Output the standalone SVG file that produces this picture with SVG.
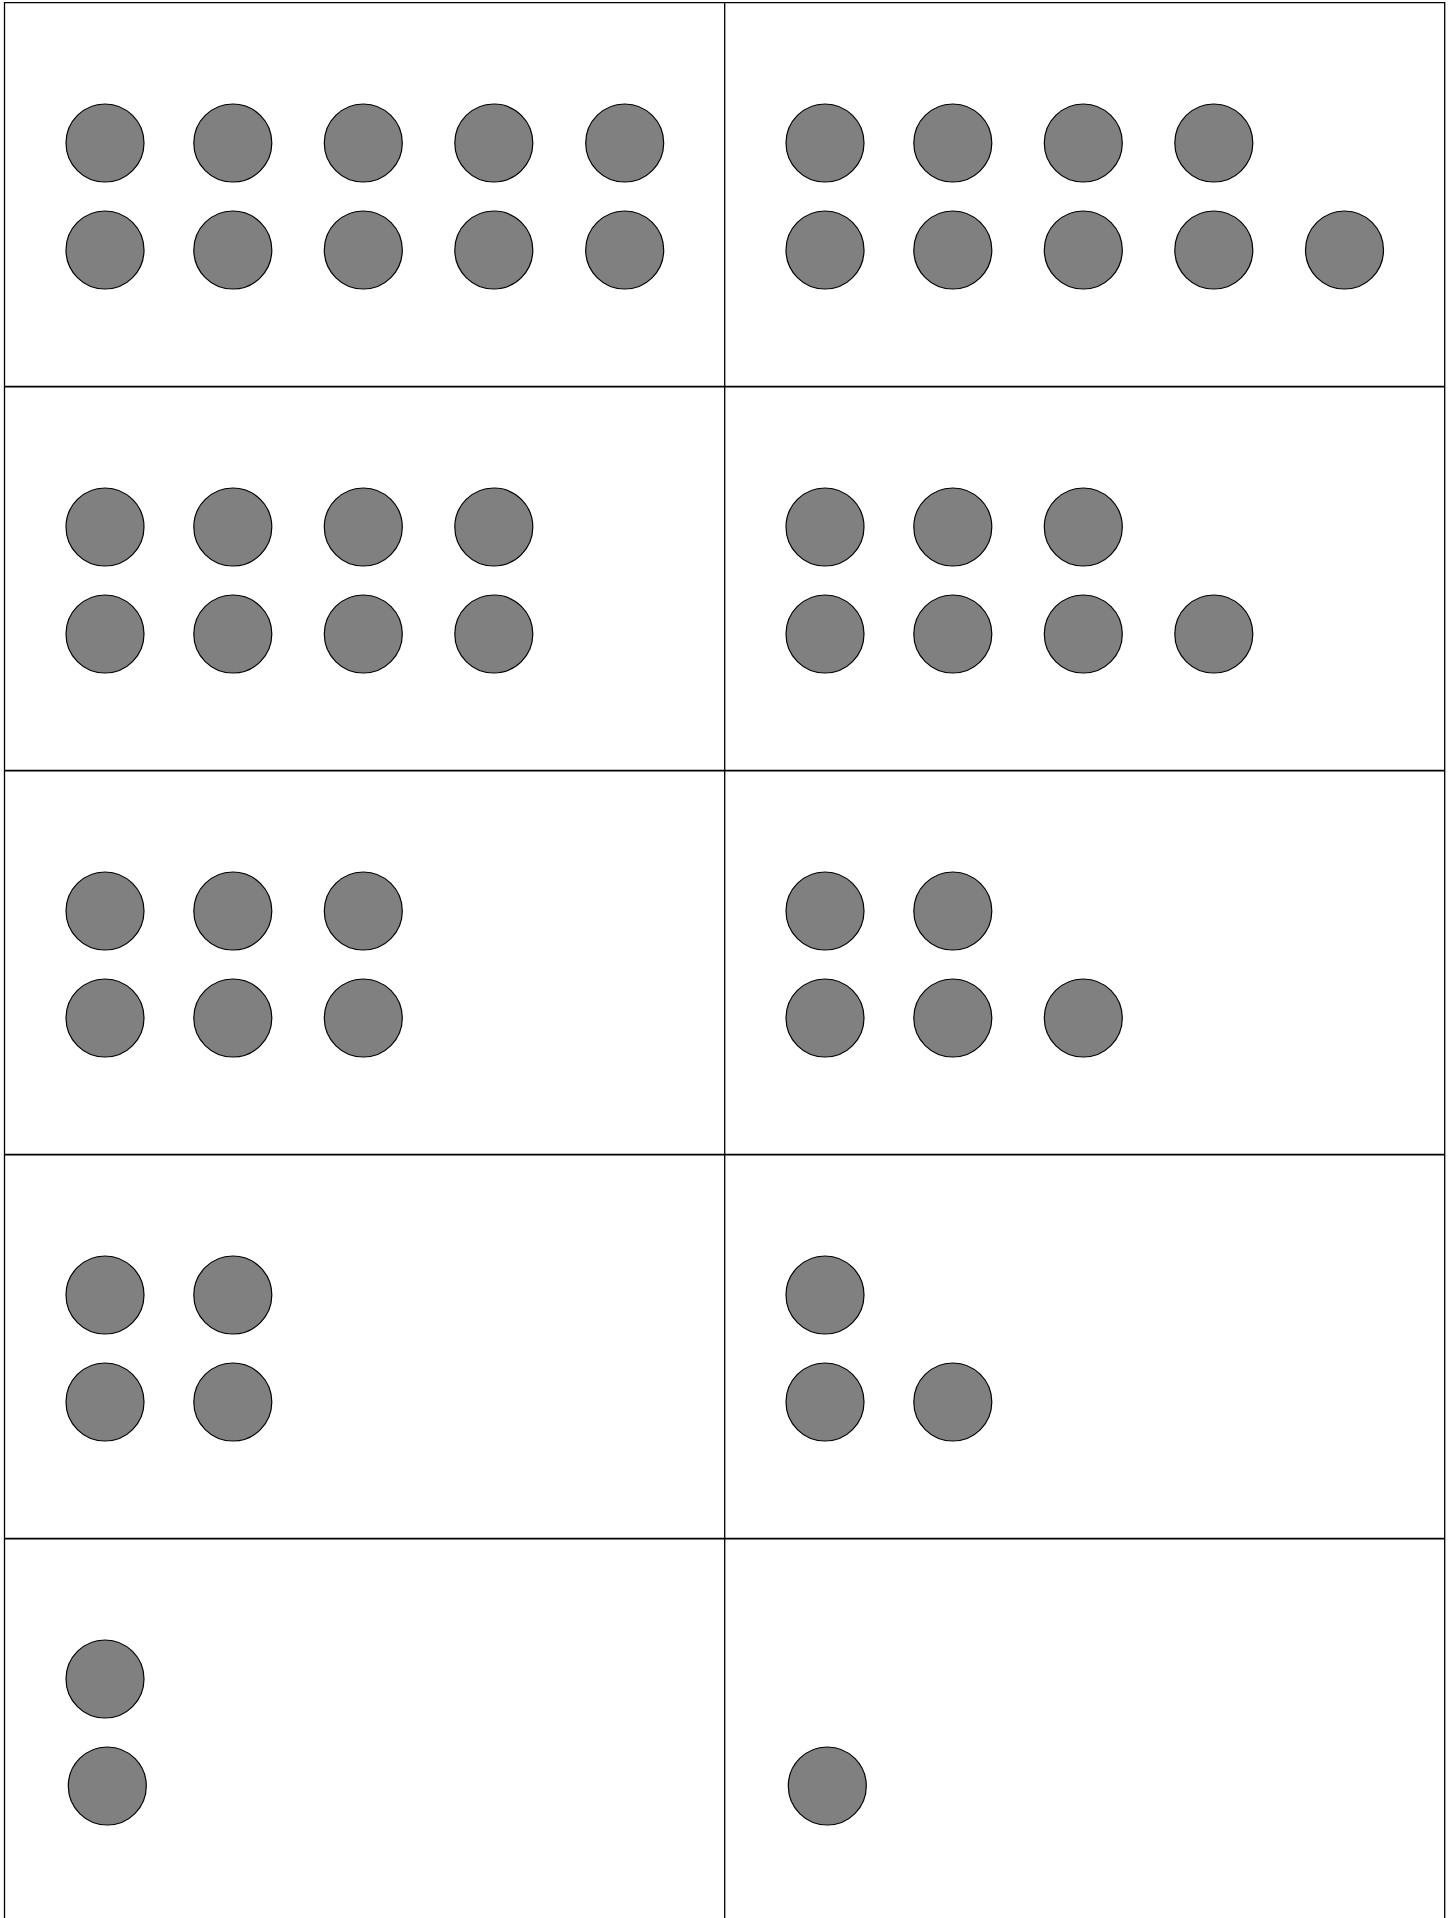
<svg xmlns="http://www.w3.org/2000/svg" width="1454" height="1918" viewBox="0 0 1454 1918">
<style>
.d{fill:#808080;stroke:#000;stroke-width:1.2}
.g{stroke:#000;fill:none}
</style>
<rect width="1454" height="1918" fill="#fff"/>
<g id="grid" class="g">
<line x1="4.5" y1="2.7" x2="1444.7" y2="2.7" stroke-width="1.3"/>
<line x1="4.5" y1="2" x2="4.5" y2="1918" stroke-width="1.3"/>
<line x1="1444.7" y1="2" x2="1444.7" y2="1918" stroke-width="1.3"/>
<line x1="724.7" y1="2" x2="724.7" y2="1918" stroke-width="1.3"/>
<line x1="4" y1="386.7" x2="1445" y2="386.7" stroke-width="1.7"/>
<line x1="4" y1="770.7" x2="1445" y2="770.7" stroke-width="1.7"/>
<line x1="4" y1="1154.7" x2="1445" y2="1154.7" stroke-width="1.7"/>
<line x1="4" y1="1538.7" x2="1445" y2="1538.7" stroke-width="1.7"/>
</g>
<g id="cell-10">
<circle class="d" cx="105" cy="143" r="39"/><circle class="d" cx="232.8" cy="143" r="39"/><circle class="d" cx="363.3" cy="143" r="39"/><circle class="d" cx="493.8" cy="143" r="39"/><circle class="d" cx="624.7" cy="143" r="39"/>
<circle class="d" cx="105" cy="250" r="39"/><circle class="d" cx="232.8" cy="250" r="39"/><circle class="d" cx="363.3" cy="250" r="39"/><circle class="d" cx="493.8" cy="250" r="39"/><circle class="d" cx="624.7" cy="250" r="39"/>
</g>
<g id="cell-9">
<circle class="d" cx="825" cy="143" r="39"/><circle class="d" cx="952.8" cy="143" r="39"/><circle class="d" cx="1083.3" cy="143" r="39"/><circle class="d" cx="1213.8" cy="143" r="39"/>
<circle class="d" cx="825" cy="250" r="39"/><circle class="d" cx="952.8" cy="250" r="39"/><circle class="d" cx="1083.3" cy="250" r="39"/><circle class="d" cx="1213.8" cy="250" r="39"/><circle class="d" cx="1344.5" cy="250" r="39"/>
</g>
<g id="cell-8">
<circle class="d" cx="105" cy="527" r="39"/><circle class="d" cx="232.8" cy="527" r="39"/><circle class="d" cx="363.3" cy="527" r="39"/><circle class="d" cx="493.8" cy="527" r="39"/>
<circle class="d" cx="105" cy="634" r="39"/><circle class="d" cx="232.8" cy="634" r="39"/><circle class="d" cx="363.3" cy="634" r="39"/><circle class="d" cx="493.8" cy="634" r="39"/>
</g>
<g id="cell-7">
<circle class="d" cx="825" cy="527" r="39"/><circle class="d" cx="952.8" cy="527" r="39"/><circle class="d" cx="1083.3" cy="527" r="39"/>
<circle class="d" cx="825" cy="634" r="39"/><circle class="d" cx="952.8" cy="634" r="39"/><circle class="d" cx="1083.3" cy="634" r="39"/><circle class="d" cx="1213.8" cy="634" r="39"/>
</g>
<g id="cell-6">
<circle class="d" cx="105" cy="911" r="39"/><circle class="d" cx="232.8" cy="911" r="39"/><circle class="d" cx="363.3" cy="911" r="39"/>
<circle class="d" cx="105" cy="1018" r="39"/><circle class="d" cx="232.8" cy="1018" r="39"/><circle class="d" cx="363.3" cy="1018" r="39"/>
</g>
<g id="cell-5">
<circle class="d" cx="825" cy="911" r="39"/><circle class="d" cx="952.8" cy="911" r="39"/>
<circle class="d" cx="825" cy="1018" r="39"/><circle class="d" cx="952.8" cy="1018" r="39"/><circle class="d" cx="1083.3" cy="1018" r="39"/>
</g>
<g id="cell-4">
<circle class="d" cx="105" cy="1295" r="39"/><circle class="d" cx="232.8" cy="1295" r="39"/>
<circle class="d" cx="105" cy="1402" r="39"/><circle class="d" cx="232.8" cy="1402" r="39"/>
</g>
<g id="cell-3">
<circle class="d" cx="825" cy="1295" r="39"/>
<circle class="d" cx="825" cy="1402" r="39"/><circle class="d" cx="952.8" cy="1402" r="39"/>
</g>
<g id="cell-2">
<circle class="d" cx="105" cy="1679" r="39"/>
<circle class="d" cx="107.3" cy="1786" r="39"/>
</g>
<g id="cell-1">
<circle class="d" cx="827.3" cy="1786" r="39"/>
</g>
</svg>
